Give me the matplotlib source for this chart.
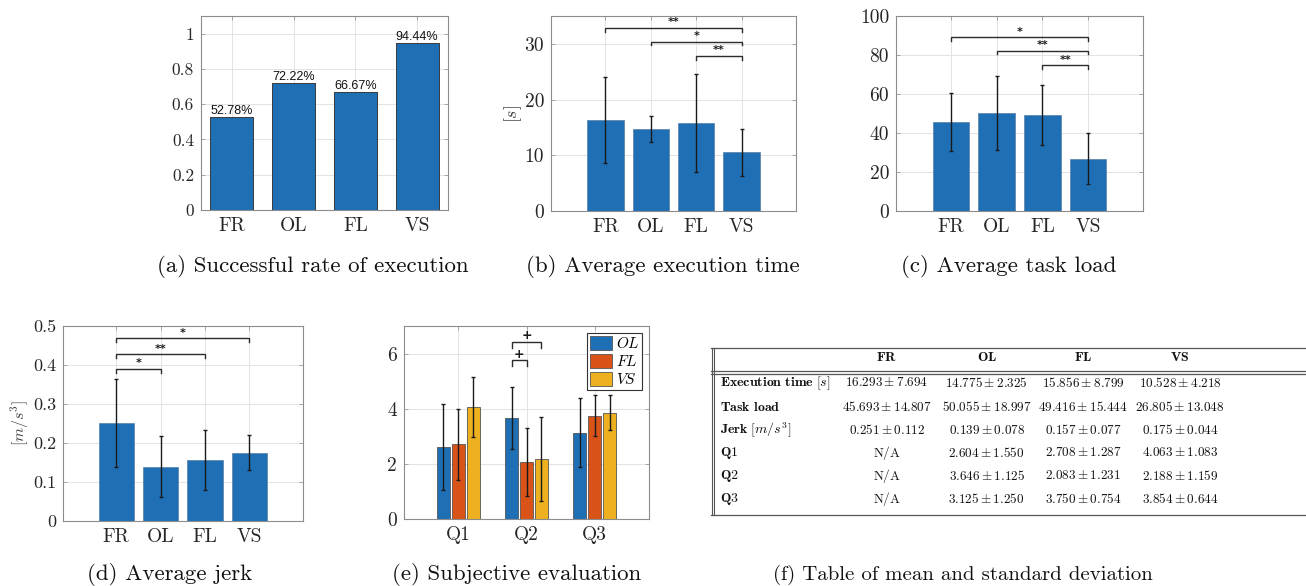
import matplotlib
matplotlib.use("Agg")
import matplotlib.pyplot as plt
import numpy as np

plt.rcParams["mathtext.fontset"] = "cm"
plt.rcParams["axes.formatter.use_mathtext"] = True

# ---------------- data ----------------
methods = ["FR", "OL", "FL", "VS"]

success_rate = [0.5278, 0.7222, 0.6667, 0.9444]

exec_time_mean = [16.293, 14.775, 15.856, 10.528]
exec_time_std = [7.694, 2.325, 8.799, 4.218]

task_load_mean = [45.693, 50.055, 49.416, 26.805]
task_load_std = [14.807, 18.997, 15.444, 13.048]

jerk_mean = [0.251, 0.139, 0.157, 0.175]
jerk_std = [0.112, 0.078, 0.077, 0.044]

questions = ["Q1", "Q2", "Q3"]
subj_methods = ["OL", "FL", "VS"]
subj_mean = {"OL": [2.604, 3.646, 3.125],
             "FL": [2.708, 2.083, 3.750],
             "VS": [4.063, 2.188, 3.854]}
subj_std = {"OL": [1.550, 1.125, 1.250],
            "FL": [1.287, 1.231, 0.754],
            "VS": [1.083, 1.520, 0.644]}

# significance brackets: (left index, right index, height, label)
sig_time = [(0, 3, 32.8, "**"), (1, 3, 30.4, "*"), (2, 3, 27.8, "**")]
sig_load = [(0, 3, 89.0, "*"), (1, 3, 82.2, "**"), (2, 3, 74.7, "**")]
sig_jerk = [(0, 3, 0.468, "*"), (0, 2, 0.427, "**"), (0, 1, 0.389, "*")]
# subjective: (question index, method a, method b, height, label)
sig_subj = [(1, 0, 1, 5.75, "+"), (1, 0, 2, 6.43, "+")]

table_cols = ["FR", "OL", "FL", "VS"]
table_rows = [r"$\mathbf{Execution\ time}\ [s]$",
              r"$\mathbf{Task\ load}$",
              r"$\mathbf{Jerk}\ [m/s^3]$",
              r"$\mathbf{Q1}$", r"$\mathbf{Q2}$", r"$\mathbf{Q3}$"]
table_cells = [
    ["16.293 \\pm 7.694", "14.775 \\pm 2.325", "15.856 \\pm 8.799", "10.528 \\pm 4.218"],
    ["45.693 \\pm 14.807", "50.055 \\pm 18.997", "49.416 \\pm 15.444", "26.805 \\pm 13.048"],
    ["0.251 \\pm 0.112", "0.139 \\pm 0.078", "0.157 \\pm 0.077", "0.175 \\pm 0.044"],
    ["N/A", "2.604 \\pm 1.550", "2.708 \\pm 1.287", "4.063 \\pm 1.083"],
    ["N/A", "3.646 \\pm 1.125", "2.083 \\pm 1.231", "2.188 \\pm 1.159"],
    ["N/A", "3.125 \\pm 1.250", "3.750 \\pm 0.754", "3.854 \\pm 0.644"],
]

captions = ["(a) Successful rate of execution", "(b) Average execution time",
            "(c) Average task load", "(d) Average jerk",
            "(e) Subjective evaluation", "(f) Table of mean and standard deviation"]

# ---------------- style ----------------
BLUE = "#1f6fb5"
ORANGE = "#d95319"
YELLOW = "#edb120"
SUBJ_COLORS = [BLUE, ORANGE, YELLOW]
EDGE = "#3a3a3a"
SPINE = "#8c8c8c"
GRID = "#e3e3e3"
TXT = "#262626"
SERIF = "cmr10"

W, H = 1306, 586
fig = plt.figure(figsize=(W / 100, H / 100), dpi=100)


def px_box(l, r, t, b):
    return [l / W, 1 - b / H, (r - l) / W, (b - t) / H]


def style_axes(ax, ylim, yticks, yfmt, xticks, xlabels, xlim, ysize=14):
    ax.set_xlim(*xlim)
    ax.set_ylim(*ylim)
    ax.set_yticks(yticks)
    ax.set_yticklabels([yfmt(v) for v in yticks], family=SERIF, fontsize=ysize, color=TXT)
    ax.set_xticks(xticks)
    ax.set_xticklabels(xlabels, family=SERIF, fontsize=14, color=TXT)
    ax.tick_params(direction="in", length=3, width=0.5, color=SPINE,
                   top=True, right=True, pad=5)
    ax.grid(True, color=GRID, lw=0.7)
    ax.set_axisbelow(True)
    for s in ax.spines.values():
        s.set_color(SPINE)
        s.set_linewidth(0.8)


def fmt_num(v):
    s = f"{v:.1f}"
    if s.endswith(".0"):
        s = s[:-2]
    return s


def bracket(ax, x1, x2, y, drop_px, label, fs=8):
    # convert pixel drop into data units
    y0 = ax.transData.transform((0, y))[1]
    ydrop = ax.transData.inverted().transform((0, y0 - drop_px))[1]
    ax.plot([x1, x1, x2, x2], [ydrop, y, y, ydrop], color="#2b2b2b", lw=1.0,
            solid_joinstyle="miter", zorder=5, clip_on=False)
    ax.annotate(label, xy=((x1 + x2) / 2, y), xytext=(0, 4.2), textcoords="offset points",
                ha="center", va="center", fontsize=fs, fontweight="bold",
                family="DejaVu Sans", color="#1a1a1a")


x4 = np.arange(1, 5)
err_kw = dict(ecolor="#1a1a1a", elinewidth=1.0, capsize=1.6, capthick=1.0)

# (a) success rate
axa = fig.add_axes(px_box(201, 448, 16, 210))
axa.bar(x4, success_rate, width=0.7, color=BLUE, edgecolor=EDGE, lw=0.7)
for xi, v in zip(x4, success_rate):
    axa.text(xi, v, f"{v * 100:.2f}%", ha="center", va="bottom",
             family="Liberation Sans", fontsize=9, color="#111111")
style_axes(axa, (0, 1.1), [0, 0.2, 0.4, 0.6, 0.8, 1.0], fmt_num, x4, methods, (0.5, 4.5),
           ysize=12.5)

# (b) execution time
axb = fig.add_axes(px_box(551, 796, 16, 211))
axb.bar(x4, exec_time_mean, width=0.8, color=BLUE, edgecolor="#5a7fa8", lw=0.5,
        yerr=exec_time_std, error_kw=err_kw)
style_axes(axb, (0, 35), [0, 10, 20, 30], fmt_num, x4, methods, (-0.2, 5.2))
for a, b, h, lab in sig_time:
    bracket(axb, x4[a], x4[b], h, 3.5, lab)

# (c) task load
axc = fig.add_axes(px_box(896, 1143, 16, 211))
axc.bar(x4, task_load_mean, width=0.8, color=BLUE, edgecolor="#5a7fa8", lw=0.5,
        yerr=task_load_std, error_kw=err_kw)
style_axes(axc, (0, 100), [0, 20, 40, 60, 80, 100], fmt_num, x4, methods, (-0.2, 5.2))
for a, b, h, lab in sig_load:
    bracket(axc, x4[a], x4[b], h, 3.5, lab)

# (d) jerk
axd = fig.add_axes(px_box(63, 302.7, 326, 520.7))
axd.bar(x4, jerk_mean, width=0.8, color=BLUE, edgecolor="#5a7fa8", lw=0.5,
        yerr=jerk_std, error_kw=err_kw)
style_axes(axd, (0, 0.5), [0, 0.1, 0.2, 0.3, 0.4, 0.5], fmt_num, x4, methods, (-0.2, 5.2),
           ysize=13)
for a, b, h, lab in sig_jerk:
    bracket(axd, x4[a], x4[b], h, 3.5, lab)

# (e) subjective evaluation
axe = fig.add_axes(px_box(404, 649, 326, 519))
x3 = np.arange(1, 4)
offsets = [-0.22, 0.0, 0.22]
for k, m in enumerate(subj_methods):
    axe.bar(x3 + offsets[k], subj_mean[m], width=0.19, color=SUBJ_COLORS[k],
            edgecolor="#555555", lw=0.6, yerr=subj_std[m], error_kw=err_kw,
            label=rf"${m}$")
style_axes(axe, (0, 7), [0, 2, 4, 6], fmt_num, x3, questions, (0.2, 3.8))
for q, ma, mb, h, lab in sig_subj:
    bracket(axe, x3[q] + offsets[ma], x3[q] + offsets[mb], h, 6, lab, fs=9)
leg = axe.legend(loc="upper right", fontsize=11, frameon=True, fancybox=False,
                 edgecolor="#333333", framealpha=1, handlelength=1.45, handleheight=1.0,
                 handletextpad=0.2, labelspacing=0.2, borderpad=0.2, borderaxespad=0.45)
leg.get_frame().set_linewidth(0.8)

# overlay for captions, unit labels and the table
ov = fig.add_axes([0, 0, 1, 1], zorder=-1)
ov.set_xlim(0, W)
ov.set_ylim(H, 0)
ov.axis("off")

ov.text(513, 113.5, r"$[s]$", rotation=90, ha="center", va="center",
        fontsize=13, color="#444444")
ov.text(20, 423, r"$[m/s^3]$", rotation=90, ha="center", va="center",
        fontsize=11.5, color="#444444")

cap_pos = [(313, 266), (663, 266), (1008.5, 266), (170, 575), (517, 575), (963, 575)]
cap_size = [16.5, 16.5, 16.5, 16.5, 16.5, 15]
for (cx, cy), cap, fs in zip(cap_pos, captions, cap_size):
    ov.text(cx, cy, cap, ha="center", va="center", family=SERIF, fontsize=fs, color="#111111")

# table frame
LINE = "#555555"
for yy in [348, 371, 374, 515]:
    ov.plot([711, W + 5], [yy, yy], color=LINE, lw=0.9, clip_on=False)
for xx in [711.5, 714]:
    ov.plot([xx, xx], [348, 515], color=LINE, lw=0.8)

col_x = [886.7, 986.7, 1083, 1180]
row_y = [383, 406.7, 430, 453, 475.7, 499.3]
for cx, name in zip(col_x, table_cols):
    ov.text(cx, 357, rf"$\mathbf{{{name}}}$", ha="center", va="center", fontsize=10, color="#111111")
for ry, rname, cells in zip(row_y, table_rows, table_cells):
    ov.text(720, ry, rname, ha="left", va="center", fontsize=10, color="#111111")
    for cx, cell in zip(col_x, cells):
        ov.text(cx, ry, rf"${cell}$" if cell != "N/A" else r"$\mathrm{N/A}$",
                ha="center", va="center", fontsize=9.5, color="#111111")

fig.savefig("out.png", dpi=100)
